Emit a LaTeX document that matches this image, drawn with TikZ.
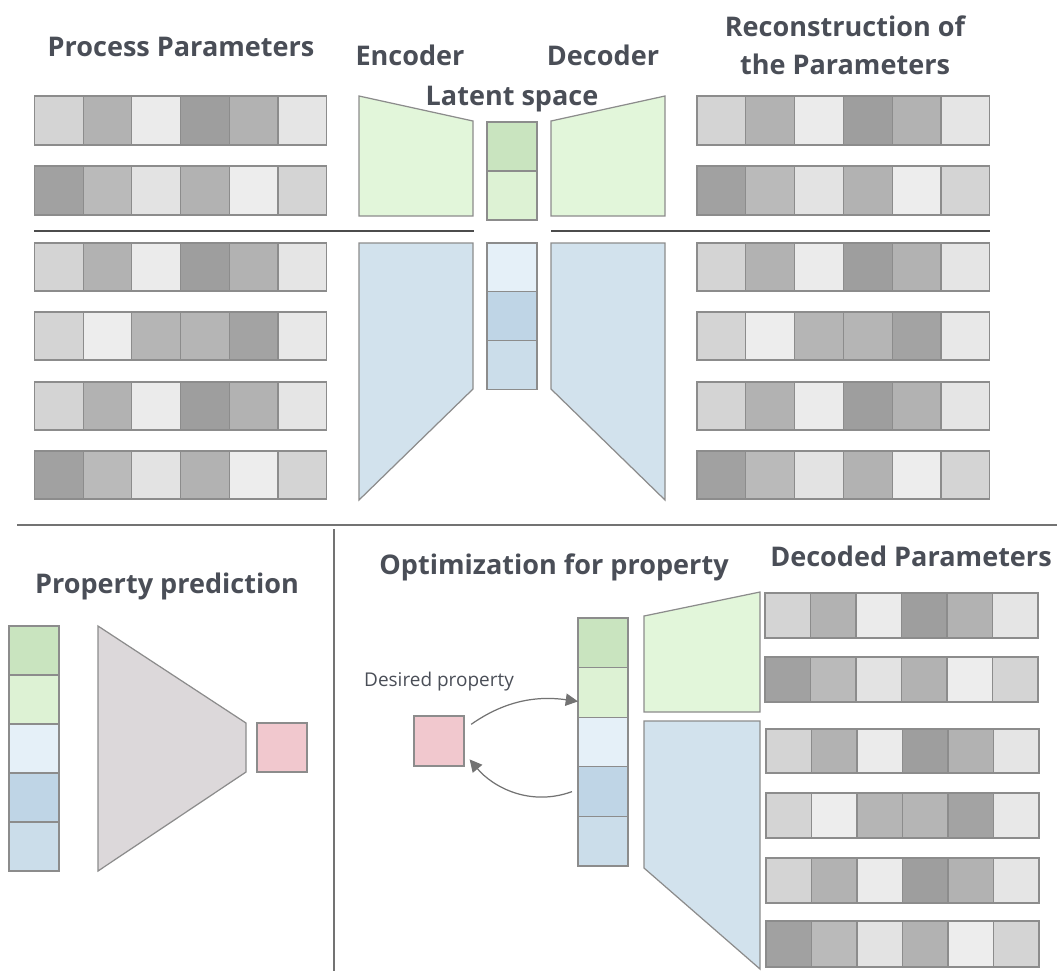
\documentclass[tikz,border=0pt]{standalone}
\usepackage{fontspec}
\setmainfont{Open Sans}
\usepackage{xcolor}
\usetikzlibrary{arrows.meta,positioning}

\definecolor{titlegrey}{HTML}{4A4E57}
\definecolor{edgegrey}{HTML}{8C8C8C}
\definecolor{encgreen}{HTML}{E2F6DA}
\definecolor{encblue}{HTML}{D2E2ED}
\definecolor{latgreenA}{HTML}{C9E4BF}
\definecolor{latgreenB}{HTML}{DDF2D4}
\definecolor{latblueA}{HTML}{E5F0F8}
\definecolor{latblueB}{HTML}{BFD5E6}
\definecolor{latblueC}{HTML}{CBDDEA}
\definecolor{predgrey}{HTML}{DCD8DA}
\definecolor{proppink}{HTML}{F1C8CE}

\tikzset{
  title/.style={font=\bfseries\fontsize{15.4}{21.5}\selectfont, text=titlegrey, align=center, anchor=base},
  smalltext/.style={font=\fontsize{10.8}{12}\selectfont, text=titlegrey, anchor=base},
  cellline/.style={draw=edgegrey, line width=0.6pt},
  netshape/.style={draw=edgegrey, line width=0.7pt},
  latcell/.style={draw=edgegrey, line width=0.6pt, minimum width=1cm, inner sep=0pt, outer sep=0pt, anchor=north west},
  sepline/.style={draw=black!70, line width=0.8pt},
  flow/.style={draw=black!55, line width=0.7pt, -{Triangle[length=7pt,width=7pt]}},
}

% one row of process parameters: x, y, cell width, cell height, grey levels (a list macro)
\newcommand{\paramrow}[5]{%
  \foreach \g [count=\i from 0] in #5
    \filldraw[cellline, fill=black!\g] ({#1+\i*#3},#2) rectangle ++(#3,#4);
}
% latent column: name, x, y, cell height, colours
\newcommand{\latentcol}[5]{%
  \foreach \c [count=\i] in {#5}
    \node[latcell, minimum height={#4*0.02cm}, fill=\c] (#1\i) at (#2,{#3+(\i-1)*#4}) {};
}
\def\rowA{17,30,8,38,30,10}
\def\rowB{37,27,11,30,7,17}
\def\rowC{17,7,29,29,36,9}

\begin{document}
\begin{tikzpicture}[x=0.02cm, y=-0.02cm]
  \useasboundingbox (0,0) rectangle (1057,971);

  % Titles of the autoencoder
  \node[title] (ttlparam) at (181,56) {Process Parameters};
  \node[title] (ttlenc) at (410,65) {Encoder};
  \node[title] (ttllat) at (512,105) {Latent space};
  \node[title] (ttldec) at (603,65) {Decoder};
  \node[title] (ttlrec) at (845,74) {Reconstruction of\\the Parameters};

  % Input parameters
  \paramrow{34.5}{96}{48.7}{49}{\rowA}
  \paramrow{34.5}{166}{48.7}{49}{\rowB}
  \paramrow{34.5}{243}{48.7}{48}{\rowA}
  \paramrow{34.5}{312}{48.7}{48}{\rowC}
  \paramrow{34.5}{382}{48.7}{48}{\rowA}
  \paramrow{34.5}{451}{48.7}{48}{\rowB}

  % Reconstructed parameters
  \paramrow{697}{96}{48.8}{49}{\rowA}
  \paramrow{697}{166}{48.8}{49}{\rowB}
  \paramrow{697}{243}{48.8}{48}{\rowA}
  \paramrow{697}{312}{48.8}{48}{\rowC}
  \paramrow{697}{382}{48.8}{48}{\rowA}
  \paramrow{697}{451}{48.8}{48}{\rowB}

  % Separators
  \draw[sepline] (34,231) -- (474,231);
  \draw[sepline] (551,231) -- (990,231);

  % Encoder and decoder
  \filldraw[netshape, fill=encgreen] (359,96) -- (473,121) -- (473,216) -- (359,216) -- cycle;
  \filldraw[netshape, fill=encblue] (359,243) -- (473,243) -- (473,389) -- (359,500) -- cycle;
  \filldraw[netshape, fill=encgreen] (551,121) -- (665,96) -- (665,216) -- (551,216) -- cycle;
  \filldraw[netshape, fill=encblue] (551,243) -- (665,243) -- (665,500) -- (551,389) -- cycle;

  % Latent space
  \latentcol{latgreen}{487}{122}{49}{latgreenA,latgreenB}
  \latentcol{latblue}{487}{243}{48.7}{latblueA,latblueB,latblueC}

  % Panel borders
  \draw[draw=black!55, line width=0.8pt] (17,525) -- (1057,525);
  \draw[draw=black!55, line width=0.8pt] (334,529) -- (334,971);

  % Property prediction
  \node[title] (ttlpred) at (167,593) {Property prediction};
  \latentcol{predlat}{9}{626}{49}{latgreenA,latgreenB,latblueA,latblueB,latblueC}
  \filldraw[netshape, fill=predgrey] (98,626) -- (246,723) -- (246,772) -- (98,871) -- cycle;
  \node[latcell, minimum height=0.98cm, fill=proppink] (predout) at (257,723) {};

  % Optimization for property
  \node[title] (ttlopt) at (554,574) {Optimization for property};
  \node[smalltext] (ttldes) at (439,686) {Desired property};
  \node[latcell, minimum height=1cm, fill=proppink] (prop) at (414,716) {};
  \latentcol{optlat}{578}{618}{49.6}{latgreenA,latgreenB,latblueA,latblueB,latblueC}
  \draw[flow, shorten <=5pt] (prop.25) to[out=35, in=172] ([yshift=-0.18cm]optlat2.west);
  \draw[flow, shorten >=5pt] ([xshift=-0.12cm]optlat4.west) to[out=200, in=-50] (prop.-25);

  % Decoder and decoded parameters
  \filldraw[netshape, fill=encgreen] (644,616) -- (760,592) -- (760,712) -- (644,712) -- cycle;
  \filldraw[netshape, fill=encblue] (644,721) -- (760,721) -- (760,969) -- (644,868) -- cycle;
  \node[title] (ttldecp) at (911,566) {Decoded Parameters};
  \paramrow{765}{593}{45.5}{45}{\rowA}
  \paramrow{765}{657}{45.5}{45}{\rowB}
  \paramrow{766}{729}{45.5}{44}{\rowA}
  \paramrow{766}{793}{45.5}{45}{\rowC}
  \paramrow{766}{858}{45.5}{45}{\rowA}
  \paramrow{766}{921}{45.5}{46}{\rowB}
\end{tikzpicture}
\end{document}
